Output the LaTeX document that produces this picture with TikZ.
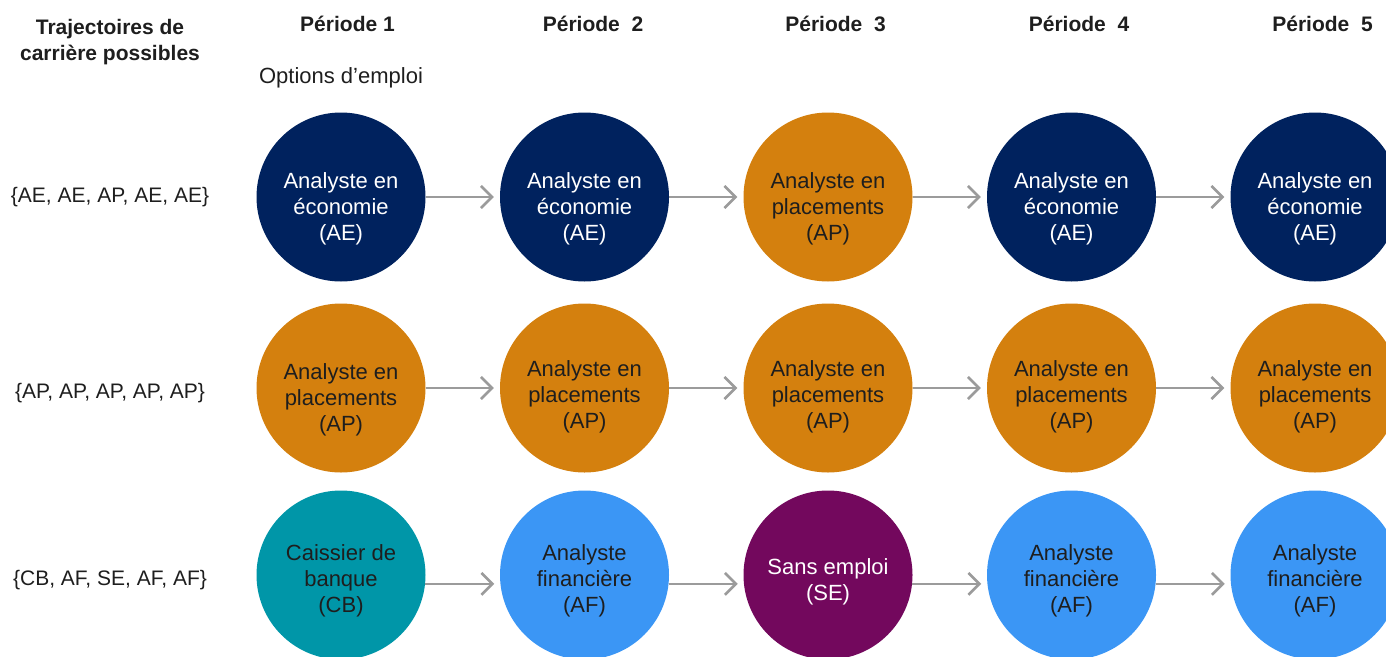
\documentclass[tikz,border=0pt]{standalone}
\usepackage{fontspec}
\setmainfont{Liberation Sans}
\usetikzlibrary{arrows.meta,calc}

\definecolor{jobnavy}{RGB}{0,34,94}
\definecolor{jobochre}{RGB}{212,128,14}
\definecolor{jobteal}{RGB}{0,150,168}
\definecolor{jobsky}{RGB}{59,150,245}
\definecolor{jobplum}{RGB}{115,8,93}
\definecolor{ink}{RGB}{30,30,30}
\definecolor{flowgray}{RGB}{155,155,155}

\begin{document}
\begin{tikzpicture}[x=1pt,y=-1pt,
  job/.style={circle, minimum size=169pt, inner sep=0pt, fill=#1},
  jobtext/.style={align=center, font=\fontsize{22}{26}\selectfont, text=#1},
  head/.style={anchor=base, font=\bfseries\fontsize{21}{26}\selectfont, text=ink},
  rowlab/.style={anchor=base, font=\fontsize{21}{26}\selectfont, text=ink},
  flow/.style={draw=flowgray, line width=2.6pt,
    -{Straight Barb[length=11pt,width=22pt]}, shorten >=6pt}
]
\useasboundingbox (0,0) rectangle (1386,656);
\clip (0,0) rectangle (1386,656);

% column headings
\node[anchor=north, align=center, font=\bfseries\fontsize{21}{26}\selectfont, text=ink]
  (trajhead) at (110,15.5) {Trajectoires de\\carrière possibles};
\node[head] (p1) at (347.5,31) {Période 1};
\node[head] (p2) at (593,31) {Période\ \ 2};
\node[head] (p3) at (835.5,31) {Période\ \ 3};
\node[head] (p4) at (1079,31) {Période\ \ 4};
\node[head] (p5) at (1322.5,31) {Période\ \ 5};
\node[anchor=base, font=\fontsize{22}{26}\selectfont, text=ink] (opts) at (341,83) {Options d’emploi};

% row labels
\node[rowlab] (r1) at (110,202) {\{AE, AE, AP, AE, AE\}};
\node[rowlab] (r2) at (110,398) {\{AP, AP, AP, AP, AP\}};
\node[rowlab] (r3) at (110,585) {\{CB, AF, SE, AF, AF\}};

% row 1
\node[job=jobnavy]  (c11) at (341,197) {};
\node[job=jobnavy]  (c12) at (584.5,197) {};
\node[job=jobochre] (c13) at (828,197) {};
\node[job=jobnavy]  (c14) at (1071.5,197) {};
\node[job=jobnavy]  (c15) at (1315,197) {};
\node[jobtext=white] (t11) at ($(c11)+(0,11.5)$) {Analyste en\\économie\\(AE)};
\node[jobtext=white] (t12) at ($(c12)+(0,11.5)$) {Analyste en\\économie\\(AE)};
\node[jobtext=ink]   (t13) at ($(c13)+(0,11.5)$) {Analyste en\\placements\\(AP)};
\node[jobtext=white] (t14) at ($(c14)+(0,11.5)$) {Analyste en\\économie\\(AE)};
\node[jobtext=white] (t15) at ($(c15)+(0,11.5)$) {Analyste en\\économie\\(AE)};

% row 2
\node[job=jobochre] (c21) at (341,388) {};
\node[job=jobochre] (c22) at (584.5,388) {};
\node[job=jobochre] (c23) at (828,388) {};
\node[job=jobochre] (c24) at (1071.5,388) {};
\node[job=jobochre] (c25) at (1315,388) {};
\node[jobtext=ink] (t21) at ($(c21)+(0,11.5)$) {Analyste en\\placements\\(AP)};
\node[jobtext=ink] (t22) at ($(c22)+(0,9)$) {Analyste en\\placements\\(AP)};
\node[jobtext=ink] (t23) at ($(c23)+(0,9)$) {Analyste en\\placements\\(AP)};
\node[jobtext=ink] (t24) at ($(c24)+(0,9)$) {Analyste en\\placements\\(AP)};
\node[jobtext=ink] (t25) at ($(c25)+(0,9)$) {Analyste en\\placements\\(AP)};

% row 3
\node[job=jobteal] (c31) at (341,575) {};
\node[job=jobsky]  (c32) at (584.5,575) {};
\node[job=jobplum] (c33) at (828,575) {};
\node[job=jobsky]  (c34) at (1071.5,575) {};
\node[job=jobsky]  (c35) at (1315,575) {};
\node[jobtext=ink]   (t31) at ($(c31)+(0,6)$) {Caissier de\\banque\\(CB)};
\node[jobtext=ink]   (t32) at ($(c32)+(0,6)$) {Analyste\\financière\\(AF)};
\node[jobtext=white] (t33) at ($(c33)+(0,7)$) {Sans emploi\\(SE)};
\node[jobtext=ink]   (t34) at ($(c34)+(0,6)$) {Analyste\\financière\\(AF)};
\node[jobtext=ink]   (t35) at ($(c35)+(0,6)$) {Analyste\\financière\\(AF)};

% transitions between periods
\foreach \r in {1,2}{
  \draw[flow] (c\r1.east) -- (c\r2.west);
  \draw[flow] (c\r2.east) -- (c\r3.west);
  \draw[flow] (c\r3.east) -- (c\r4.west);
  \draw[flow] (c\r4.east) -- (c\r5.west);
}
\draw[flow] (c31.-6.8) -- (c32.186.8);
\draw[flow] (c32.-6.8) -- (c33.186.8);
\draw[flow] (c33.-6.8) -- (c34.186.8);
\draw[flow] (c34.-6.8) -- (c35.186.8);
\end{tikzpicture}
\end{document}
